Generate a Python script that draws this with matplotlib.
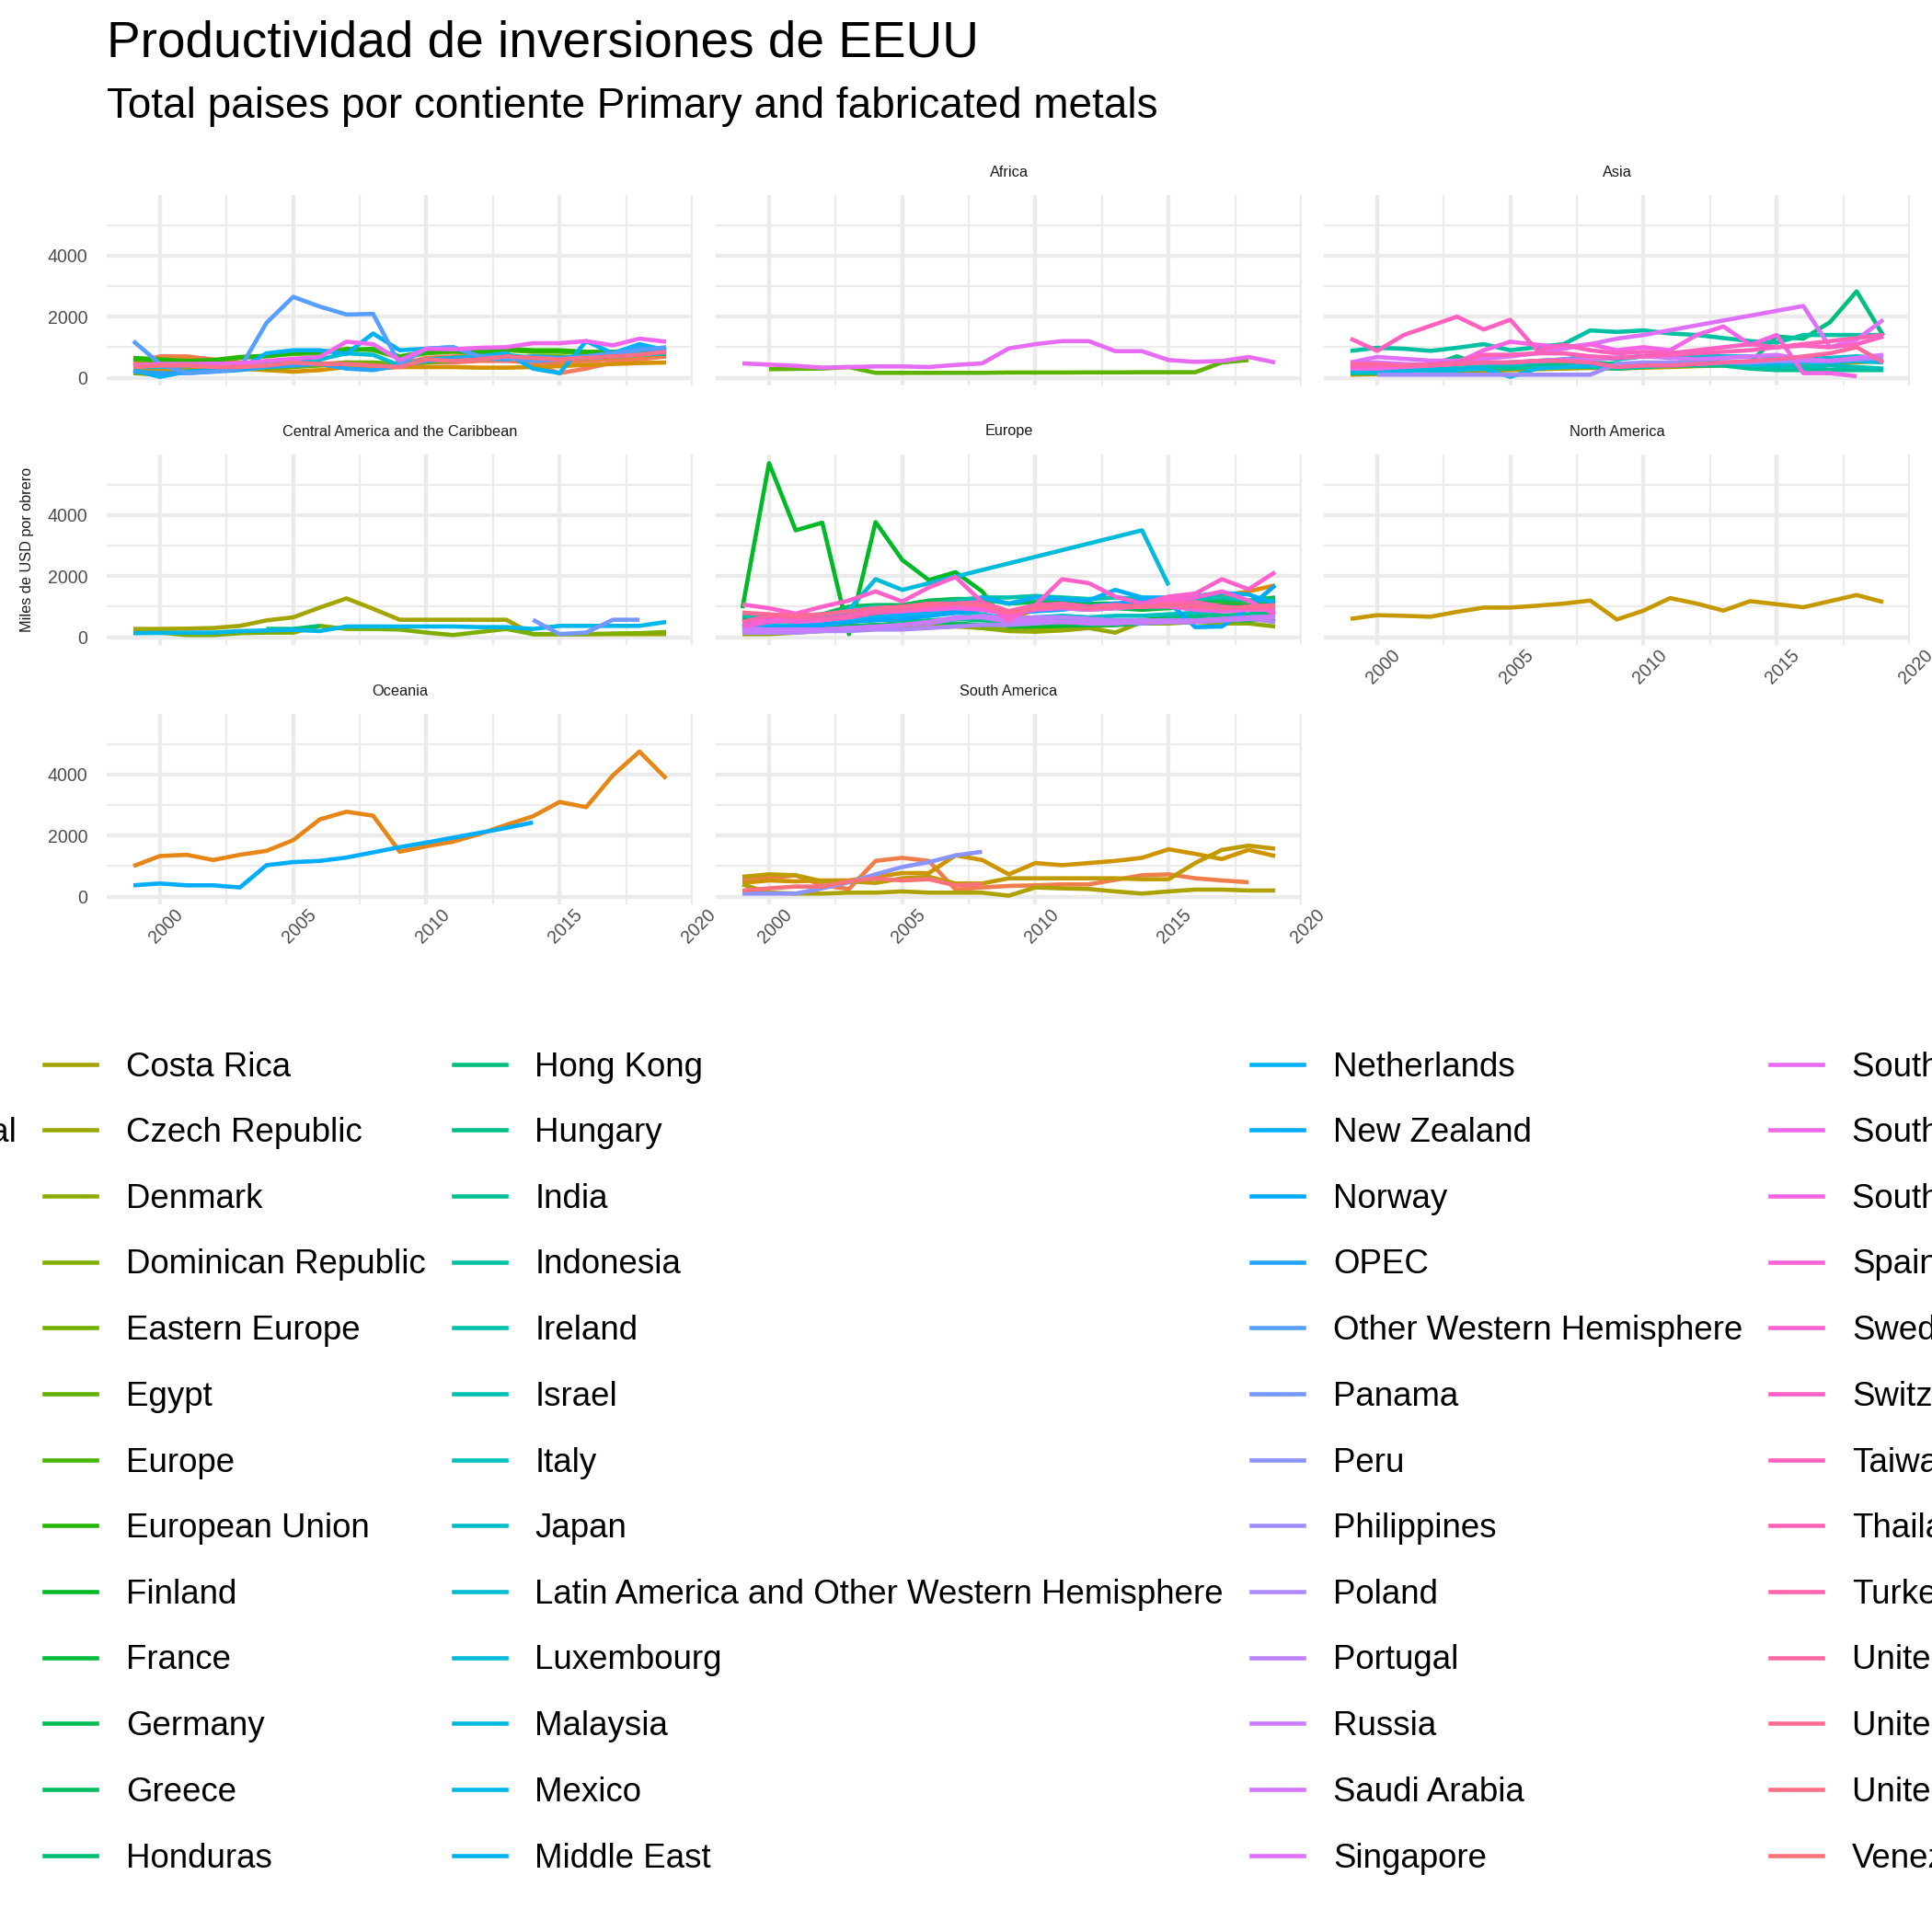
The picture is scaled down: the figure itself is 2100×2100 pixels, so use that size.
import numpy as np
import matplotlib.pyplot as plt
from matplotlib.lines import Line2D

plt.rcParams['font.family'] = ['Liberation Sans', 'DejaVu Sans']

nan = np.nan
years = list(range(1999, 2020))

# legend order (alphabetical, as ggplot sorts the factor)
paises = [
    "Africa", "All Countries Total", "Argentina", "Asia and Pacific", "Australia",
    "Austria", "Belgium", "Bermuda", "Brazil", "Canada", "Chile", "China", "Colombia",
    "Costa Rica", "Czech Republic", "Denmark", "Dominican Republic", "Eastern Europe",
    "Egypt", "Europe", "European Union", "Finland", "France", "Germany", "Greece",
    "Honduras", "Hong Kong", "Hungary", "India", "Indonesia", "Ireland", "Israel",
    "Italy", "Japan", "Latin America and Other Western Hemisphere", "Luxembourg",
    "Malaysia", "Mexico", "Middle East", "Netherlands", "New Zealand", "Norway", "OPEC",
    "Other Western Hemisphere", "Panama", "Peru", "Philippines", "Poland", "Portugal",
    "Russia", "Saudi Arabia", "Singapore", "South Africa", "South America", "South Korea",
    "Spain", "Sweden", "Switzerland", "Taiwan", "Thailand", "Turkey",
    "United Arab Emirates", "United Kingdom", "United Kingdom Islands, Caribbean",
    "Venezuela",
]

# facet without continent (aggregates)
agregados = {
    "Africa": [300, 350, 300, 300, 350, 400, 400, 450, 450, 400, 400, 500, 500, 550, 550, 500, 500, 550, 600, 650, 700],
    "All Countries Total": [500, 700, 700, 600, 500, 450, 400, 450, 500, 450, 450, 650, 700, 700, 650, 450, 150, 300, 500, 600, 700],
    "Asia and Pacific": [400, 650, 680, 500, 400, 400, 450, 480, 430, 400, 400, 600, 650, 650, 600, 550, 550, 600, 650, 700, 750],
    "Bermuda": [200, 250, 250, 300, 300, 250, 200, 250, 350, 300, 350, 350, 350, 330, 330, 350, 380, 420, 450, 480, 500],
    "Eastern Europe": [150, 100, 200, 250, 300, 300, 350, 400, 500, 500, 450, 500, 550, 600, 650, 700, 700, 650, 700, 750, 800],
    "Europe": [600, 550, 520, 560, 650, 700, 780, 800, 950, 900, 650, 800, 850, 800, 900, 850, 850, 800, 800, 850, 850],
    "European Union": [650, 600, 550, 580, 680, 720, 820, 850, 900, 950, 700, 850, 900, 850, 950, 900, 900, 850, 850, 900, 900],
    "Latin America and Other Western Hemisphere": [350, 350, 380, 400, 420, 500, 550, 600, 800, 750, 400, 600, 650, 700, 750, 650, 600, 650, 700, 750, 800],
    "Middle East": [250, 30, 200, 250, 300, 800, 900, 900, 780, 1450, 900, 950, 1000, 700, 800, 300, 150, 1200, 800, 1100, 900],
    "OPEC": [200, 150, 150, 200, 250, 350, 400, 450, 300, 250, 400, 550, 600, 650, 600, 700, 650, 700, 800, 1000, 800],
    "Other Western Hemisphere": [1200, 450, 150, 200, 300, 1800, 2650, 2330, 2070, 2090, 450, 950, 1000, 700, 650, 550, 600, 700, 800, 900, 1000],
    "South America": [400, 450, 450, 460, 470, 550, 620, 680, 1180, 1100, 580, 950, 930, 980, 1000, 1130, 1130, 1200, 1060, 1280, 1180],
    "United Kingdom Islands, Caribbean": [350, 400, 400, 350, 350, 400, 500, 450, 450, 400, 350, 600, 550, 600, 700, 650, 600, 650, 700, 750, 850],
}

africa = {
    "Egypt": [nan, 280, 290, 300, 350, 160, 160, 160, 160, 160, 170, 170, 170, 175, 175, 180, 180, 180, 500, 580, nan],
    "South Africa": [470, 430, 390, 330, 350, 370, 370, 350, 420, 470, 960, 1100, 1200, 1200, 870, 870, 580, 520, 550, 680, 500],
}

asia = {
    "China": [100, 120, 150, 180, 200, 220, 250, 280, 300, 320, 300, 330, 350, 380, 400, 420, 450, 480, 500, 500, 550],
    "Hong Kong": [300, 300, 350, 400, 700, 400, 350, 400, 450, 500, 450, 450, 500, 450, 500, 500, 1350, 1280, 1820, 2830, 1380],
    "India": [150, 150, 200, 200, 250, 300, 300, 350, 350, 350, 300, 350, 400, 400, 400, 300, 250, 250, 250, 250, 250],
    "Indonesia": [880, 980, 950, 880, 980, 1100, 900, 1000, 1100, 1550, 1500, 1550, 1450, 1400, 1300, 1200, 1150, 1400, 1400, 1400, 1400],
    "Israel": [300, 300, 300, 300, 350, 400, 400, 500, 600, 700, 600, 700, 700, 600, 500, 400, 350, 350, 400, 350, 300],
    "Japan": [400, 350, 350, 350, 400, 450, 500, 550, 600, 650, 650, 700, 750, 700, 700, 700, 700, 650, 650, 700, 650],
    "Malaysia": [200, 200, 200, 250, 250, 300, 30, 300, 350, 400, 400, 450, 450, 500, 500, 450, 450, 500, 500, 550, 500],
    "Philippines": [nan, 100, 100, 100, 100, 100, 100, 100, 100, 100, 450, 500, 500, 450, 500, 500, 550, 550, 550, 600, 650],
    "Saudi Arabia": [500, 500, 450, 400, 450, 500, 500, 550, 600, 600, 650, 700, 650, 600, 650, 700, 750, 600, 550, 650, 750],
    "Singapore": [500, 680, 620, 560, 560, 620, 700, 800, 950, 1100, 1280, 1400, nan, nan, nan, nan, nan, 2350, 1000, 1250, 1900],
    "South Korea": [300, 300, 350, 400, 500, 900, 1180, 1080, 1000, 1100, 900, 1000, 900, 1400, 1680, 1080, 1400, 150, 150, 50, nan],
    "Taiwan": [1280, 880, 1400, 1700, 2000, 1580, 1900, 900, 1080, 900, 800, 850, 800, 900, 1000, 1100, 1000, 1050, 1000, 1100, 1350],
    "Thailand": [350, 400, 400, 450, 500, 750, 750, 800, 800, 700, 650, 700, 750, 800, 850, 900, 1000, 1100, 1200, 1300, 1400],
    "United Arab Emirates": [450, 450, 400, 400, 450, 500, 500, 550, 550, 500, 350, 400, 400, 450, 500, 550, 600, 700, 800, 1000, 500],
}

centroamerica = {
    "Costa Rica": [270, 270, 280, 300, 370, 550, 650, 970, 1270, 930, 570, 570, 570, 570, 570, 100, 100, 100, 100, 100, 100],
    "Dominican Republic": [150, 150, 70, 70, 130, 150, 150, 370, 270, 270, 250, 150, 70, 170, 270, 100, 100, 100, 120, 130, 170],
    "Honduras": [nan, nan, nan, nan, nan, 270, 270, 370, nan, nan, nan, nan, nan, nan, nan, nan, nan, nan, nan, nan, nan],
    "Mexico": [130, 140, 150, 150, 200, 220, 240, 200, 350, 350, 350, 350, 350, 330, 330, 270, 370, 370, 370, 370, 500],
    "Panama": [nan, nan, nan, nan, nan, nan, nan, nan, nan, nan, nan, nan, nan, nan, nan, 570, 100, 150, 570, 570, nan],
}

europa = {
    "Austria": [500, 550, 500, 600, 700, 800, 850, 950, 1050, 1000, 850, 950, 1000, 1050, 1100, 1000, 1100, 1200, 1350, 1500, 1700],
    "Belgium": [700, 650, 650, 700, 800, 850, 900, 1000, 1050, 1100, 600, 900, 1050, 1100, 1000, 900, 1000, 1050, 1100, 1050, 1000],
    "Czech Republic": [100, 100, 150, 200, 250, 300, 300, 320, 350, 300, 200, 180, 220, 300, 150, 500, 550, 600, 600, 650, 500],
    "Denmark": [350, 350, 300, 300, 350, 400, 400, 450, 400, 300, 250, 300, 350, 350, 400, 450, 450, 500, 450, 450, 350],
    "Finland": [950, 5700, 3500, 3750, 100, 3770, 2530, 1870, 2130, 1500, 350, 350, 370, 400, 430, 550, 650, 700, 700, 720, 750],
    "France": [600, 600, 550, 600, 700, 750, 800, 850, 900, 900, 800, 900, 950, 900, 950, 900, 950, 1000, 1050, 1050, 1100],
    "Germany": [800, 700, 700, 750, 1000, 1050, 1050, 1200, 1250, 1250, 1100, 1150, 1150, 1100, 1100, 1050, 1100, 1150, 1200, 1200, 1300],
    "Greece": [200, 250, 250, 300, 350, 400, 450, 500, 450, 400, 400, 450, 450, 400, 400, 450, 500, 500, 550, 550, 600],
    "Hungary": [300, 300, 350, 400, 550, 600, 500, 550, 600, 550, 500, 600, 550, 500, 550, 500, 600, 650, 700, 750, 900],
    "Ireland": [700, 650, 600, 650, 900, 1000, 950, 1050, 1200, 1300, 1300, 1350, 1300, 1250, 1300, 1250, 1200, 1250, 1300, 1200, 1200],
    "Italy": [400, 400, 380, 420, 500, 600, 650, 700, 800, 750, 600, 650, 700, 650, 700, 700, 750, 800, 850, 900, 1000],
    "Luxembourg": [400, 350, 380, 420, 900, 1900, 1550, nan, nan, nan, nan, nan, nan, nan, nan, 3500, 1700, nan, nan, nan, nan],
    "Netherlands": [450, 350, 350, 400, 550, 650, 750, 850, 900, 1300, 1100, 1300, 1250, 1200, 1550, 1300, 1300, 1350, 1450, 1400, 1100],
    "Norway": [300, 300, 350, 400, 500, 550, 600, 700, 800, 900, 800, 850, 900, 1000, 1100, 1200, 1150, 330, 350, 950, 1700],
    "Poland": [150, 150, 150, 200, 200, 250, 250, 300, 350, 400, 400, 450, 500, 500, 500, 450, 500, 500, 550, 600, 500],
    "Portugal": [300, 250, 250, 250, 300, 300, 400, 450, 600, 700, 600, 650, 650, 600, 550, 550, 550, 550, 600, 650, 700],
    "Russia": [200, 200, 200, 250, 300, 350, 400, 500, 650, 650, 500, 550, 500, 450, 450, 500, 500, 500, 550, 600, 650],
    "Spain": [500, 600, 500, 550, 650, 800, 850, 900, 950, 900, 750, 900, 950, 900, 950, 1000, 1000, 900, 850, 900, 900],
    "Sweden": [350, 500, 550, 600, 700, 850, 900, 950, 1050, 1000, 700, 1000, 1050, 1000, 1050, 1000, 1200, 1300, 1500, 1200, 750],
    "Switzerland": [1070, 950, 770, 1000, 1200, 1500, 1170, 1630, 1970, 1150, 550, 1050, 1900, 1770, 1330, 1100, 1330, 1430, 1900, 1570, 2130],
    "Turkey": [500, 700, 650, 600, 650, 800, 900, 1000, 1100, 1150, 850, 1050, 1100, 1000, 1050, 1000, 1100, 1150, 1000, 950, 950],
    "United Kingdom": [800, 750, 700, 750, 850, 950, 1000, 1100, 1100, 1050, 800, 950, 1000, 950, 1000, 1000, 1050, 1000, 950, 1000, 1050],
}

norteamerica = {
    "Canada": [600, 720, 700, 670, 830, 970, 970, 1030, 1100, 1200, 580, 870, 1280, 1100, 870, 1180, 1080, 980, 1180, 1380, 1150],
}

oceania = {
    "Australia": [1000, 1330, 1370, 1200, 1370, 1500, 1850, 2530, 2780, 2650, 1470, 1650, 1800, 2050, 2350, 2630, 3100, 2930, 3970, 4750, 3870],
    "New Zealand": [370, 430, 370, 370, 300, 1030, 1130, 1170, 1280, 1450, 1620, 1770, 1930, 2090, 2250, 2430, nan, nan, nan, nan, nan],
}

sudamerica = {
    "Argentina": [550, 600, 700, 370, 250, 1170, 1270, 1170, 230, 300, 350, 370, 400, 400, 550, 700, 730, 600, 530, 470, nan],
    "Brazil": [450, 530, 500, 530, 530, 650, 770, 770, 1350, 1200, 730, 1100, 1030, 1100, 1170, 1270, 1550, 1400, 1230, 1530, 1330],
    "Chile": [650, 730, 700, 500, 500, 450, 600, 650, 430, 430, 600, 600, 600, 600, 600, 570, 570, 1100, 1530, 1670, 1570],
    "Colombia": [400, 130, 100, 100, 130, 130, 170, 130, 130, 130, 30, 300, 270, 250, 170, 100, 170, 230, 230, 200, 200],
    "Peru": [100, 100, 100, 270, 470, 730, 970, 1130, 1350, 1470, nan, nan, nan, nan, nan, nan, nan, nan, nan, nan, nan],
    "Venezuela": [200, 270, 330, 330, 500, 600, 530, 570, 370, 400, nan, nan, nan, nan, nan, nan, nan, nan, nan, nan, nan],
}

facetas = ["", "Africa", "Asia", "Central America and the Caribbean", "Europe",
           "North America", "Oceania", "South America"]
datos = [agregados, africa, asia, centroamerica, europa, norteamerica, oceania, sudamerica]


def hcl(h, c=100.0, l=65.0):
    # polar Luv -> sRGB, same as grDevices::hcl (used by ggplot's hue palette)
    xn, yn, zn = 95.047, 100.0, 108.883
    den = xn + 15 * yn + 3 * zn
    un, vn = 4 * xn / den, 9 * yn / den
    hr = np.deg2rad(h)
    u, v = c * np.cos(hr), c * np.sin(hr)
    y = yn * ((l + 16) / 116) ** 3
    up, vp = u / (13 * l) + un, v / (13 * l) + vn
    x = 9 * y * up / (4 * vp)
    z = -x / 3 - 5 * y + 3 * y / vp
    m = np.array([[3.240479, -1.537150, -0.498535],
                  [-0.969256, 1.875992, 0.041556],
                  [0.055648, -0.204043, 1.057311]])
    rgb = m @ np.array([x, y, z]) / 100
    rgb = np.where(rgb > 0.0031308, 1.055 * np.clip(rgb, 0, None) ** (1 / 2.4) - 0.055, 12.92 * rgb)
    return tuple(np.clip(rgb, 0, 1))


n = len(paises)
colores = {p: hcl(15 + 360 * i / n) for i, p in enumerate(paises)}

todos = np.array([v for d in datos for serie in d.values() for v in serie], dtype=float)
lo, hi = np.nanmin(todos), np.nanmax(todos)
ylim = (lo - 0.05 * (hi - lo), hi + 0.05 * (hi - lo))
xspan = years[-1] - years[0]
xlim = (years[0] - 0.05 * xspan, years[-1] + 0.05 * xspan)

W = H = 2100
fig = plt.figure(figsize=(7, 7), dpi=300)

lefts = [116, 778, 1439]
tops = [212, 494, 776]
pw, ph = 637, 207
grid_c = '#EBEBEB'

for i, (titulo, d) in enumerate(zip(facetas, datos)):
    r, c = divmod(i, 3)
    ax = fig.add_axes([lefts[c] / W, 1 - (tops[r] + ph) / H, pw / W, ph / H])
    for p in paises:
        if p not in d:
            continue
        y = np.array(d[p], dtype=float)
        ok = ~np.isnan(y)
        ax.plot(np.array(years)[ok], y[ok], color=colores[p], lw=1.1, solid_capstyle='butt')
    ax.set_xlim(xlim)
    ax.set_ylim(ylim)
    ax.set_xticks([2000, 2005, 2010, 2015, 2020])
    ax.set_xticks([2002.5, 2007.5, 2012.5, 2017.5], minor=True)
    ax.set_yticks([0, 2000, 4000])
    ax.set_yticks([1000, 3000, 5000], minor=True)
    ax.grid(which='major', color=grid_c, lw=1.07)
    ax.grid(which='minor', color=grid_c, lw=0.53)
    ax.set_axisbelow(True)
    for s in ax.spines.values():
        s.set_visible(False)
    ax.tick_params(which='both', length=0, labelsize=4.7, labelcolor='#4D4D4D')
    ax.tick_params(axis='y', pad=5)
    ax.tick_params(axis='x', pad=4)
    show_x = (r == 2) or (r == 1 and c == 2)
    ax.tick_params(labelbottom=show_x, labelleft=(c == 0))
    if show_x:
        plt.setp(ax.get_xticklabels(), rotation=45, ha='center', va='top',
                 rotation_mode='anchor')
    if titulo:
        ax.text(0.5, 1 + 25 / ph, titulo, transform=ax.transAxes, ha='center',
                va='center', fontsize=3.9, color='#1A1A1A')

fig.text(30 / W, 1 - 597 / H, "Miles de USD por obrero", rotation=90,
         ha='center', va='center', fontsize=3.9, color='#1A1A1A')

fig.text(116 / W, 1 - 62 / H, "Productividad de inversiones de EEUU",
         fontsize=13.2, va='baseline', ha='left')
fig.text(116 / W, 1 - 128 / H, "Total paises por contiente Primary and fabricated metals",
         fontsize=11, va='baseline', ha='left')

handles = [Line2D([], [], color=colores[p], lw=1.1) for p in paises]
fig.legend(handles, paises, ncol=5, loc='center', bbox_to_anchor=(1112 / W, 1 - 1590 / H),
           frameon=False, fontsize=8.8, handlelength=1.55, handletextpad=0.87,
           columnspacing=0.82, labelspacing=1.0, borderaxespad=0)

fig.savefig('out.png', dpi=300)
